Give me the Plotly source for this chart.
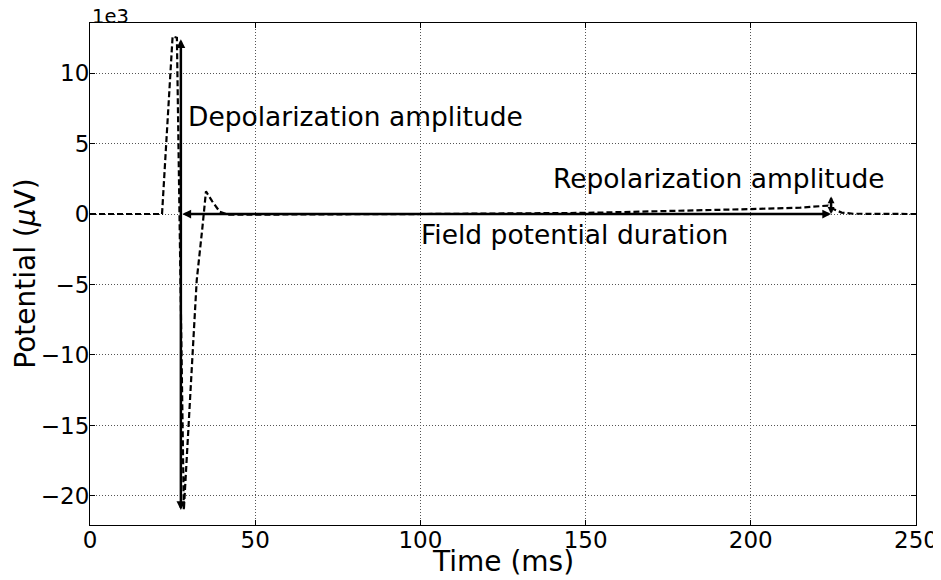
import plotly.graph_objects as go

# Field potential trace (time in ms, potential in units of 1e3 µV)
time_ms = [0, 10, 21.8, 25.0, 26.3, 28.4, 32.3, 34.0, 35.1, 37.0, 39.3, 42, 60, 100, 150, 175, 200, 215, 221, 223.4, 225, 227.5, 231, 240, 250]
potential = [0, 0, 0, 12.6, 12.5, -21.0, -4.7, -1.0, 1.6, 0.9, 0.15, -0.05, -0.05, 0.0, 0.08, 0.2, 0.35, 0.45, 0.55, 0.6, 0.35, 0.1, 0.02, 0.0, 0.0]

x_ticks = [0, 50, 100, 150, 200, 250]
y_ticks = [-20, -15, -10, -5, 0, 5, 10]
y_tick_labels = ["\u221220", "\u221215", "\u221210", "\u22125", "0", "5", "10"]

# Measurement arrows: (x0, y0, x1, y1)
depol_arrow = (27.5, 12.5, 27.5, -21.0)
duration_arrow = (27.5, 0.0, 224.3, 0.0)
repol_arrow = (224.3, -0.1, 224.3, 1.25)

labels = [
    ("Depolarization amplitude", 29.0, 6.9, "left"),
    ("Repolarization amplitude", 190.4, 2.55, "center"),
    ("Field potential duration", 146.5, -1.45, "center"),
]

fig = go.Figure()
fig.add_trace(go.Scatter(
    x=time_ms, y=potential, mode="lines",
    line=dict(color="black", width=2.2, dash="6px,3px"),
    showlegend=False, hoverinfo="skip",
))

for i, (x0, y0, x1, y1) in enumerate([depol_arrow, duration_arrow, repol_arrow]):
    size = 0.55 if i == 2 else 0.7
    fig.add_annotation(
        x=x1, y=y1, ax=x0, ay=y0, xref="x", yref="y", axref="x", ayref="y",
        text="", showarrow=True, arrowhead=2, startarrowhead=2,
        arrowside="end+start", arrowwidth=2.5, arrowsize=size, startarrowsize=size,
        arrowcolor="black",
    )

for text, x, y, anchor in labels:
    fig.add_annotation(
        x=x, y=y, xref="x", yref="y", text=text, showarrow=False,
        xanchor=anchor, yanchor="middle",
        font=dict(family="DejaVu Sans", size=26.5, color="black"),
    )

# Axis titles and offset label
fig.add_annotation(x=0.5, y=-0.0737, xref="paper", yref="paper", text="Time (ms)",
                   showarrow=False, xanchor="center", yanchor="middle",
                   font=dict(family="DejaVu Sans", size=28, color="black"))
fig.add_annotation(x=-0.079, y=0.5, xref="paper", yref="paper", text="Potential (<i>\u03bc</i>V)",
                   showarrow=False, xanchor="center", yanchor="middle", textangle=-90,
                   font=dict(family="DejaVu Sans", size=28, color="black"))
fig.add_annotation(x=0, y=1.0, xref="paper", yref="paper", text="1e3",
                   showarrow=False, xanchor="left", yanchor="bottom", yshift=-7.5,
                   font=dict(family="DejaVu Sans", size=19.5, color="black"))

axis_common = dict(
    showline=True, linecolor="black", linewidth=1.2, mirror="ticks",
    ticks="inside", ticklen=5, tickcolor="black",
    showgrid=True, gridcolor="#555555", gridwidth=1, griddash="1px,2px",
    zeroline=False, automargin=False,
    tickfont=dict(family="DejaVu Sans", size=23, color="black"),
)

fig.update_xaxes(range=[0, 250], tickvals=x_ticks, ticklabelstandoff=-6, **axis_common)
fig.update_yaxes(range=[-22.06, 13.55], tickvals=y_ticks, ticktext=y_tick_labels,
                 ticklabelstandoff=-5, **axis_common)

# margins compensate for the 8px page offset of the browser body
fig.update_layout(
    width=941, height=580,
    margin=dict(l=82, r=33, t=15, b=63),
    plot_bgcolor="white", paper_bgcolor="white",
    font=dict(family="DejaVu Sans", color="black"),
)

fig.write_html("out.html")
